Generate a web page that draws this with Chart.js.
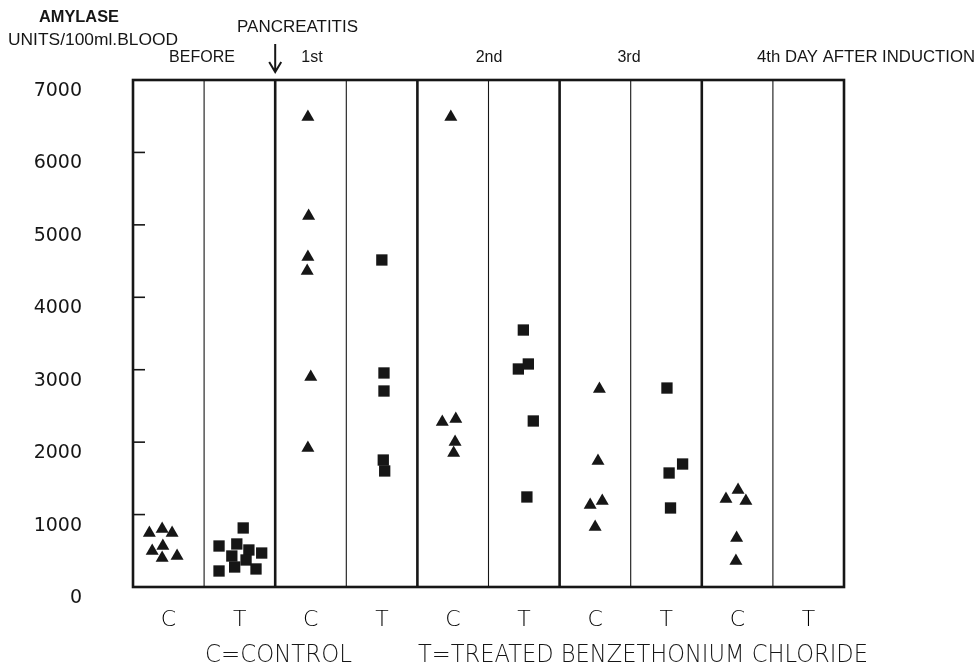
<!DOCTYPE html>
<html>
<head>
<meta charset="utf-8">
<script src="https://cdn.jsdelivr.net/npm/chart.js@4.4.0/dist/chart.umd.min.js"></script>
<style>
  html, body { margin: 0; padding: 0; background: #fff; }
  #wrap { width: 980px; height: 665px; }
</style>
</head>
<body>
<div id="wrap"><canvas id="chart" width="980" height="665"></canvas></div>
<script>
/* ===== DATA ===== */
const columns = ['C', 'T', 'C', 'T', 'C', 'T', 'C', 'T', 'C', 'T'];
const groupLabels = ['BEFORE', '1st', '2nd', '3rd', '4th DAY AFTER INDUCTION'];
const yTicks = [0, 1000, 2000, 3000, 4000, 5000, 6000, 7000];

// each point: [spread inside its column, amylase units/100 ml blood]
const beforeC = [[-0.27, 745], [-0.09, 800], [0.05, 745], [-0.23, 497], [-0.08, 566], [-0.09, 400], [0.12, 428]];
const beforeT = [[0.05, 815], [-0.29, 566], [-0.04, 594], [-0.11, 428], [0.13, 511], [0.31, 469], [0.09, 373], [-0.07, 276], [-0.29, 221], [0.23, 249]];
const day1C = [[-0.04, 6489], [-0.03, 5122], [-0.04, 4556], [-0.05, 4363], [0.0, 2899], [-0.04, 1919]];
const day1T = [[0.0, 4515], [0.03, 2955], [0.03, 2706], [0.02, 1753], [0.04, 1602]];
const day2C = [[-0.03, 6489], [-0.15, 2278], [0.04, 2320], [0.03, 2002], [0.01, 1850]];
const day2T = [[-0.01, 3548], [-0.08, 3010], [0.06, 3079], [0.13, 2292], [0.04, 1243]];
const day3C = [[0.06, 2734], [0.04, 1740], [-0.07, 1132], [0.10, 1187], [0.0, 828]];
const day3T = [[0.01, 2747], [0.23, 1698], [0.04, 1574], [0.06, 1091]];
const day4C = [[0.01, 1339], [-0.16, 1215], [0.12, 1187], [-0.01, 677], [-0.02, 359]];
const day4T = [];

const toPoints = (sets) => sets.flatMap(([col, pts]) =>
  pts.map(([dx, v]) => ({ x: col + 0.5 + dx, y: v })));

const controlPoints = toPoints([[0, beforeC], [2, day1C], [4, day2C], [6, day3C], [8, day4C]]);
const treatedPoints = toPoints([[1, beforeT], [3, day1T], [5, day2T], [7, day3T], [9, day4T]]);

const INK = '#161616';

// squeeze/stretch a string so it spans left..right
function fitText(ctx, str, left, right, y, font) {
  ctx.font = font;
  const w = ctx.measureText(str).width;
  ctx.save();
  ctx.translate(left, y);
  ctx.scale((right - left) / w, 1);
  ctx.textAlign = 'left';
  ctx.textBaseline = 'middle';
  ctx.fillText(str, 0, 0);
  ctx.restore();
}

function centerText(ctx, str, cx, y, font) {
  ctx.font = font;
  ctx.textAlign = 'center';
  ctx.textBaseline = 'middle';
  ctx.fillText(str, cx, y);
}

// column separators, frame and small inner ticks
const framePlugin = {
  id: 'frame',
  beforeDatasetsDraw(chart) {
    const { ctx, chartArea: a, scales: { x, y } } = chart;
    ctx.save();
    ctx.strokeStyle = INK;
    for (let i = 1; i < columns.length; i++) {
      const px = x.getPixelForValue(i);
      ctx.lineWidth = i % 2 === 0 ? 2.6 : 1.1;
      ctx.beginPath();
      ctx.moveTo(px, a.top);
      ctx.lineTo(px, a.bottom);
      ctx.stroke();
    }
    ctx.lineWidth = 1.6;
    yTicks.slice(1, -1).forEach(v => {
      const py = y.getPixelForValue(v);
      ctx.beginPath();
      ctx.moveTo(a.left, py);
      ctx.lineTo(a.left + 12, py);
      ctx.stroke();
    });
    ctx.lineWidth = 2.6;
    ctx.strokeRect(a.left, a.top, a.right - a.left, a.bottom - a.top);
    ctx.restore();
  }
};

// titles, group labels, arrow and footnote
const labelsPlugin = {
  id: 'labels',
  afterDraw(chart) {
    const { ctx, scales: { x } } = chart;
    ctx.save();
    ctx.fillStyle = INK;
    ctx.strokeStyle = INK;
    const head = "bold 17px 'Liberation Sans', Arial, sans-serif";
    const mid = "16px 'Liberation Sans', Arial, sans-serif";
    fitText(ctx, 'AMYLASE', 39, 119, 17, head);
    fitText(ctx, 'UNITS/100ml.BLOOD', 8, 178, 40, "17px 'Liberation Sans', Arial, sans-serif");
    fitText(ctx, 'PANCREATITIS', 237, 358, 28, mid);

    centerText(ctx, groupLabels[0], 202, 58, mid);
    centerText(ctx, groupLabels[1], 312, 58, mid);
    centerText(ctx, groupLabels[2], 489, 58, mid);
    centerText(ctx, groupLabels[3], 629, 58, mid);
    fitText(ctx, groupLabels[4], 757, 975, 58, mid);

    // arrow marking induction of pancreatitis
    const ax = x.getPixelForValue(2);
    ctx.lineWidth = 2;
    ctx.beginPath();
    ctx.moveTo(ax, 44);
    ctx.lineTo(ax, 72);
    ctx.moveTo(ax - 6, 62);
    ctx.lineTo(ax, 72);
    ctx.lineTo(ax + 6, 62);
    ctx.stroke();

    const thin = "300 25px 'DejaVu Sans', sans-serif";
    fitText(ctx, 'C=CONTROL', 205, 352, 655, thin);
    fitText(ctx, 'T=TREATED BENZETHONIUM CHLORIDE', 418, 868, 655, thin);
    ctx.restore();
  }
};

new Chart(document.getElementById('chart'), {
  type: 'scatter',
  data: {
    datasets: [
      {
        label: 'Control',
        data: controlPoints,
        pointStyle: 'triangle',
        pointRadius: 7.5,
        pointHoverRadius: 7.5,
        backgroundColor: INK,
        borderColor: INK,
        borderWidth: 0
      },
      {
        label: 'Treated',
        data: treatedPoints,
        pointStyle: 'rect',
        pointRadius: 8,
        pointHoverRadius: 8,
        backgroundColor: INK,
        borderColor: INK,
        borderWidth: 0
      }
    ]
  },
  options: {
    responsive: false,
    animation: false,
    devicePixelRatio: 1,
    layout: { padding: { top: 80, right: 136, left: 0, bottom: 0 } },
    plugins: {
      legend: { display: false },
      tooltip: { enabled: false }
    },
    scales: {
      x: {
        type: 'linear',
        min: 0,
        max: columns.length,
        grid: { display: false },
        border: { display: false },
        afterBuildTicks: (scale) => {
          scale.ticks = columns.map((_, i) => ({ value: i + 0.5 }));
        },
        afterFit: (scale) => { scale.height = 78; },
        ticks: {
          autoSkip: false,
          maxRotation: 0,
          padding: 12,
          color: '#000',
          font: { family: "'DejaVu Sans', sans-serif", size: 22, weight: 300 },
          callback: (v, i) => columns[i]
        }
      },
      y: {
        min: 0,
        max: 7000,
        grid: { display: false },
        border: { display: false },
        afterBuildTicks: (scale) => {
          scale.ticks = yTicks.map(v => ({ value: v }));
        },
        afterFit: (scale) => { scale.width = 133; },
        ticks: {
          padding: 43,
          labelOffset: 11,
          color: INK,
          font: { family: "'DejaVu Sans', sans-serif", size: 19 },
          callback: (v) => String(v)
        }
      }
    }
  },
  plugins: [framePlugin, labelsPlugin]
});
</script>
</body>
</html>
